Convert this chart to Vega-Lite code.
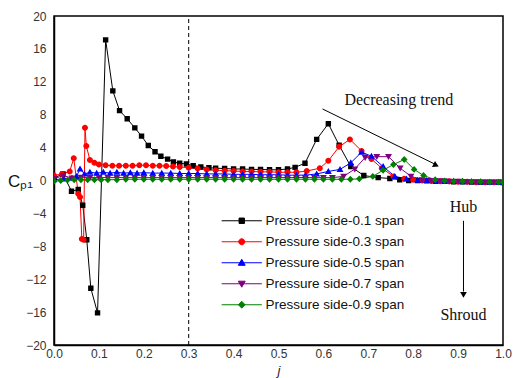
{
  "$schema": "https://vega.github.io/schema/vega-lite/v6.json",
  "width": 449,
  "height": 329,
  "autosize": "none",
  "padding": {"left": 54, "top": 16, "right": 11, "bottom": 33},
  "background": "white",
  "config": {
    "view": {"stroke": "black", "strokeWidth": 1.5},
    "font": "Liberation Sans",
    "axis": {"labelOverlap": false, "labelFlush": false}
  },
  "datasets": {
    "cp": [
      {"s":"0.1","j":0.0,"c":0.3},{"s":"0.1","j":0.02,"c":0.8},{"s":"0.1","j":0.039,"c":-1.3},{"s":"0.1","j":0.054,"c":-1.1},{"s":"0.1","j":0.064,"c":-3.0},{"s":"0.1","j":0.073,"c":-7.2},{"s":"0.1","j":0.082,"c":-13.1},{"s":"0.1","j":0.097,"c":-16.1},{"s":"0.1","j":0.115,"c":17.1},{"s":"0.1","j":0.131,"c":10.9},{"s":"0.1","j":0.146,"c":8.5},{"s":"0.1","j":0.163,"c":7.5},{"s":"0.1","j":0.18,"c":6.4},{"s":"0.1","j":0.195,"c":5.4},{"s":"0.1","j":0.21,"c":4.25},{"s":"0.1","j":0.225,"c":3.5},{"s":"0.1","j":0.238,"c":2.95},{"s":"0.1","j":0.253,"c":2.6},{"s":"0.1","j":0.266,"c":2.25},{"s":"0.1","j":0.28,"c":2.1},{"s":"0.1","j":0.295,"c":2.0},{"s":"0.1","j":0.31,"c":1.8},{"s":"0.1","j":0.327,"c":1.65},{"s":"0.1","j":0.345,"c":1.55},{"s":"0.1","j":0.36,"c":1.5},{"s":"0.1","j":0.38,"c":1.45},{"s":"0.1","j":0.4,"c":1.4},{"s":"0.1","j":0.42,"c":1.4},{"s":"0.1","j":0.44,"c":1.35},{"s":"0.1","j":0.46,"c":1.35},{"s":"0.1","j":0.48,"c":1.3},{"s":"0.1","j":0.5,"c":1.3},{"s":"0.1","j":0.52,"c":1.4},{"s":"0.1","j":0.537,"c":1.6},{"s":"0.1","j":0.559,"c":2.1},{"s":"0.1","j":0.585,"c":5.0},{"s":"0.1","j":0.611,"c":6.9},{"s":"0.1","j":0.635,"c":4.3},{"s":"0.1","j":0.661,"c":1.7},{"s":"0.1","j":0.69,"c":0.6},{"s":"0.1","j":0.722,"c":0.35},{"s":"0.1","j":0.748,"c":0.25},{"s":"0.1","j":0.77,"c":0.1},{"s":"0.1","j":0.79,"c":0.0},{"s":"0.1","j":0.81,"c":0.0},{"s":"0.1","j":0.83,"c":-0.05},{"s":"0.1","j":0.85,"c":-0.1},{"s":"0.1","j":0.87,"c":-0.1},{"s":"0.1","j":0.89,"c":-0.15},{"s":"0.1","j":0.91,"c":-0.15},{"s":"0.1","j":0.93,"c":-0.2},{"s":"0.1","j":0.95,"c":-0.2},{"s":"0.1","j":0.97,"c":-0.2},{"s":"0.1","j":0.99,"c":-0.2},{"s":"0.1","j":1.0,"c":-0.25},

      {"s":"0.3","j":0.0,"c":0.6},{"s":"0.3","j":0.018,"c":0.8},{"s":"0.3","j":0.035,"c":1.1},{"s":"0.3","j":0.044,"c":2.7},{"s":"0.3","j":0.054,"c":-1.6},{"s":"0.3","j":0.058,"c":-2.0},{"s":"0.3","j":0.062,"c":-7.1},{"s":"0.3","j":0.066,"c":-7.2},{"s":"0.3","j":0.069,"c":6.4},{"s":"0.3","j":0.072,"c":4.2},{"s":"0.3","j":0.08,"c":2.5},{"s":"0.3","j":0.09,"c":2.15},{"s":"0.3","j":0.1,"c":1.95},{"s":"0.3","j":0.115,"c":1.85},{"s":"0.3","j":0.13,"c":1.8},{"s":"0.3","j":0.145,"c":1.8},{"s":"0.3","j":0.16,"c":1.8},{"s":"0.3","j":0.175,"c":1.8},{"s":"0.3","j":0.19,"c":1.85},{"s":"0.3","j":0.205,"c":1.85},{"s":"0.3","j":0.22,"c":1.8},{"s":"0.3","j":0.235,"c":1.8},{"s":"0.3","j":0.25,"c":1.75},{"s":"0.3","j":0.265,"c":1.7},{"s":"0.3","j":0.28,"c":1.65},{"s":"0.3","j":0.3,"c":1.55},{"s":"0.3","j":0.32,"c":1.45},{"s":"0.3","j":0.34,"c":1.35},{"s":"0.3","j":0.36,"c":1.25},{"s":"0.3","j":0.38,"c":1.2},{"s":"0.3","j":0.4,"c":1.15},{"s":"0.3","j":0.42,"c":1.1},{"s":"0.3","j":0.44,"c":1.1},{"s":"0.3","j":0.46,"c":1.05},{"s":"0.3","j":0.48,"c":1.05},{"s":"0.3","j":0.5,"c":1.0},{"s":"0.3","j":0.52,"c":1.0},{"s":"0.3","j":0.54,"c":1.0},{"s":"0.3","j":0.563,"c":1.15},{"s":"0.3","j":0.592,"c":1.5},{"s":"0.3","j":0.611,"c":2.4},{"s":"0.3","j":0.635,"c":4.1},{"s":"0.3","j":0.659,"c":5.0},{"s":"0.3","j":0.685,"c":3.6},{"s":"0.3","j":0.707,"c":2.6},{"s":"0.3","j":0.73,"c":1.5},{"s":"0.3","j":0.756,"c":0.5},{"s":"0.3","j":0.78,"c":0.2},{"s":"0.3","j":0.8,"c":0.1},{"s":"0.3","j":0.82,"c":0.0},{"s":"0.3","j":0.84,"c":-0.05},{"s":"0.3","j":0.86,"c":-0.1},{"s":"0.3","j":0.88,"c":-0.1},{"s":"0.3","j":0.9,"c":-0.15},{"s":"0.3","j":0.92,"c":-0.15},{"s":"0.3","j":0.94,"c":-0.2},{"s":"0.3","j":0.96,"c":-0.2},{"s":"0.3","j":0.98,"c":-0.2},{"s":"0.3","j":1.0,"c":-0.25},

      {"s":"0.5","j":0.0,"c":0.1},{"s":"0.5","j":0.02,"c":0.2},{"s":"0.5","j":0.04,"c":0.3},{"s":"0.5","j":0.05,"c":0.5},{"s":"0.5","j":0.058,"c":1.4},{"s":"0.5","j":0.068,"c":0.8},{"s":"0.5","j":0.08,"c":1.0},{"s":"0.5","j":0.095,"c":0.9},{"s":"0.5","j":0.11,"c":1.0},{"s":"0.5","j":0.125,"c":0.9},{"s":"0.5","j":0.14,"c":1.0},{"s":"0.5","j":0.155,"c":0.9},{"s":"0.5","j":0.17,"c":0.95},{"s":"0.5","j":0.185,"c":0.9},{"s":"0.5","j":0.2,"c":0.95},{"s":"0.5","j":0.22,"c":0.9},{"s":"0.5","j":0.24,"c":0.9},{"s":"0.5","j":0.26,"c":0.9},{"s":"0.5","j":0.28,"c":0.85},{"s":"0.5","j":0.3,"c":0.85},{"s":"0.5","j":0.32,"c":0.85},{"s":"0.5","j":0.34,"c":0.8},{"s":"0.5","j":0.36,"c":0.8},{"s":"0.5","j":0.38,"c":0.8},{"s":"0.5","j":0.4,"c":0.75},{"s":"0.5","j":0.42,"c":0.75},{"s":"0.5","j":0.44,"c":0.75},{"s":"0.5","j":0.46,"c":0.7},{"s":"0.5","j":0.48,"c":0.7},{"s":"0.5","j":0.5,"c":0.7},{"s":"0.5","j":0.52,"c":0.65},{"s":"0.5","j":0.54,"c":0.65},{"s":"0.5","j":0.56,"c":0.65},{"s":"0.5","j":0.585,"c":0.8},{"s":"0.5","j":0.611,"c":1.1},{"s":"0.5","j":0.637,"c":1.35},{"s":"0.5","j":0.661,"c":2.15},{"s":"0.5","j":0.685,"c":3.45},{"s":"0.5","j":0.707,"c":2.95},{"s":"0.5","j":0.733,"c":1.7},{"s":"0.5","j":0.759,"c":0.5},{"s":"0.5","j":0.785,"c":0.2},{"s":"0.5","j":0.81,"c":0.05},{"s":"0.5","j":0.83,"c":0.0},{"s":"0.5","j":0.85,"c":-0.05},{"s":"0.5","j":0.87,"c":-0.1},{"s":"0.5","j":0.89,"c":-0.1},{"s":"0.5","j":0.91,"c":-0.15},{"s":"0.5","j":0.93,"c":-0.15},{"s":"0.5","j":0.95,"c":-0.2},{"s":"0.5","j":0.97,"c":-0.2},{"s":"0.5","j":0.99,"c":-0.2},{"s":"0.5","j":1.0,"c":-0.2},

      {"s":"0.7","j":0.0,"c":0.2},{"s":"0.7","j":0.02,"c":0.6},{"s":"0.7","j":0.04,"c":0.3},{"s":"0.7","j":0.06,"c":0.4},{"s":"0.7","j":0.08,"c":0.35},{"s":"0.7","j":0.1,"c":0.35},{"s":"0.7","j":0.12,"c":0.35},{"s":"0.7","j":0.14,"c":0.35},{"s":"0.7","j":0.16,"c":0.35},{"s":"0.7","j":0.18,"c":0.35},{"s":"0.7","j":0.2,"c":0.35},{"s":"0.7","j":0.22,"c":0.35},{"s":"0.7","j":0.24,"c":0.35},{"s":"0.7","j":0.26,"c":0.35},{"s":"0.7","j":0.28,"c":0.35},{"s":"0.7","j":0.3,"c":0.35},{"s":"0.7","j":0.32,"c":0.35},{"s":"0.7","j":0.34,"c":0.35},{"s":"0.7","j":0.36,"c":0.35},{"s":"0.7","j":0.38,"c":0.35},{"s":"0.7","j":0.4,"c":0.35},{"s":"0.7","j":0.42,"c":0.35},{"s":"0.7","j":0.44,"c":0.35},{"s":"0.7","j":0.46,"c":0.35},{"s":"0.7","j":0.48,"c":0.35},{"s":"0.7","j":0.5,"c":0.35},{"s":"0.7","j":0.52,"c":0.35},{"s":"0.7","j":0.54,"c":0.35},{"s":"0.7","j":0.56,"c":0.35},{"s":"0.7","j":0.58,"c":0.35},{"s":"0.7","j":0.6,"c":0.35},{"s":"0.7","j":0.62,"c":0.35},{"s":"0.7","j":0.645,"c":0.5},{"s":"0.7","j":0.67,"c":1.4},{"s":"0.7","j":0.693,"c":2.8},{"s":"0.7","j":0.719,"c":2.9},{"s":"0.7","j":0.745,"c":2.9},{"s":"0.7","j":0.771,"c":1.5},{"s":"0.7","j":0.795,"c":0.5},{"s":"0.7","j":0.82,"c":0.1},{"s":"0.7","j":0.84,"c":0.0},{"s":"0.7","j":0.86,"c":-0.05},{"s":"0.7","j":0.88,"c":-0.1},{"s":"0.7","j":0.9,"c":-0.1},{"s":"0.7","j":0.92,"c":-0.15},{"s":"0.7","j":0.94,"c":-0.15},{"s":"0.7","j":0.96,"c":-0.2},{"s":"0.7","j":0.98,"c":-0.2},{"s":"0.7","j":1.0,"c":-0.2},

      {"s":"0.9","j":0.0,"c":-0.1},{"s":"0.9","j":0.015,"c":0.0},{"s":"0.9","j":0.03,"c":0.05},{"s":"0.9","j":0.045,"c":0.1},{"s":"0.9","j":0.06,"c":0.1},{"s":"0.9","j":0.075,"c":0.1},{"s":"0.9","j":0.09,"c":0.1},{"s":"0.9","j":0.105,"c":0.1},{"s":"0.9","j":0.12,"c":0.1},{"s":"0.9","j":0.14,"c":0.1},{"s":"0.9","j":0.16,"c":0.15},{"s":"0.9","j":0.18,"c":0.15},{"s":"0.9","j":0.2,"c":0.15},{"s":"0.9","j":0.22,"c":0.15},{"s":"0.9","j":0.24,"c":0.15},{"s":"0.9","j":0.26,"c":0.15},{"s":"0.9","j":0.28,"c":0.15},{"s":"0.9","j":0.3,"c":0.15},{"s":"0.9","j":0.32,"c":0.15},{"s":"0.9","j":0.34,"c":0.15},{"s":"0.9","j":0.36,"c":0.15},{"s":"0.9","j":0.38,"c":0.15},{"s":"0.9","j":0.4,"c":0.15},{"s":"0.9","j":0.42,"c":0.15},{"s":"0.9","j":0.44,"c":0.15},{"s":"0.9","j":0.46,"c":0.15},{"s":"0.9","j":0.48,"c":0.15},{"s":"0.9","j":0.5,"c":0.15},{"s":"0.9","j":0.52,"c":0.15},{"s":"0.9","j":0.54,"c":0.15},{"s":"0.9","j":0.56,"c":0.15},{"s":"0.9","j":0.58,"c":0.15},{"s":"0.9","j":0.6,"c":0.15},{"s":"0.9","j":0.62,"c":0.15},{"s":"0.9","j":0.64,"c":0.15},{"s":"0.9","j":0.66,"c":0.15},{"s":"0.9","j":0.68,"c":0.2},{"s":"0.9","j":0.71,"c":0.5},{"s":"0.9","j":0.733,"c":1.25},{"s":"0.9","j":0.756,"c":1.94},{"s":"0.9","j":0.78,"c":2.55},{"s":"0.9","j":0.802,"c":1.35},{"s":"0.9","j":0.823,"c":0.6},{"s":"0.9","j":0.849,"c":0.1},{"s":"0.9","j":0.87,"c":-0.05},{"s":"0.9","j":0.89,"c":-0.1},{"s":"0.9","j":0.91,"c":-0.1},{"s":"0.9","j":0.93,"c":-0.15},{"s":"0.9","j":0.95,"c":-0.15},{"s":"0.9","j":0.97,"c":-0.2},{"s":"0.9","j":0.99,"c":-0.2},{"s":"0.9","j":1.0,"c":-0.2}
    ],
    "vline": [{"j": 0.3, "c": -20, "c2": 20}],
    "arrows": [
      {"j": 0.598, "c": 8.7, "j2": 0.848, "c2": 2.0},
      {"j": 0.912, "c": -4.9, "j2": 0.912, "c2": -13.5}
    ],
    "head1": [{"j": 0.851, "c": 1.85}],
    "head2": [{"j": 0.912, "c": -13.9}],
    "notes": [
      {"j": 0.768, "c": 9.75, "t": "Decreasing trend"},
      {"j": 0.912, "c": -3.2, "t": "Hub"},
      {"j": 0.912, "c": -16.3, "t": "Shroud"}
    ]
  },
  "encoding": {
    "x": {
      "field": "j", "type": "quantitative",
      "scale": {"domain": [0, 1], "nice": false, "zero": false},
      "axis": {
        "values": [0,0.05,0.1,0.15,0.2,0.25,0.3,0.35,0.4,0.45,0.5,0.55,0.6,0.65,0.7,0.75,0.8,0.85,0.9,0.95,1.0],
        "labelExpr": "round(datum.value*20)%2==0 ? format(datum.value,'.1f') : ''",
        "grid": false, "tickSize": 0, "labelPadding": 3,
        "domainColor": "black", "domainWidth": 1.5,
        "tickColor": "black", "tickWidth": 1.2,
        "labelFont": "Liberation Sans", "labelFontSize": 12, "labelColor": "#333",
        "labelFlush": false, "labelOverlap": false,
        "title": "j", "titleFont": "Liberation Sans", "titleFontStyle": "italic", "titleFontWeight": "normal", "titleFontSize": 13, "titlePadding": 5, "titleColor": "#222",
        "encode": {"ticks": {"update": {"y2": {"signal": "round(datum.value*20)%2==0 ? -6 : -3"}}}}
      }
    },
    "y": {
      "field": "c", "type": "quantitative",
      "scale": {"domain": [-20, 20], "nice": false, "zero": false},
      "axis": {
        "values": [-20,-18,-16,-14,-12,-10,-8,-6,-4,-2,0,2,4,6,8,10,12,14,16,18,20],
        "labelExpr": "round(datum.value)%4==0 ? format(datum.value,'d') : ''",
        "grid": false, "tickSize": 0, "labelPadding": 8,
        "domainColor": "black", "domainWidth": 1.5,
        "tickColor": "black", "tickWidth": 1.2,
        "labelFont": "Liberation Sans", "labelFontSize": 12, "labelColor": "#333",
        "labelFlush": false, "labelOverlap": false,
        "title": "Cₚ₁", "titleAngle": 0, "titleAlign": "center", "titleBaseline": "middle",
        "titleX": -34, "titleY": 165, "titleFont": "Liberation Sans", "titleFontSize": 17, "titleFontWeight": "normal", "titleColor": "#111",
        "encode": {"ticks": {"update": {"x2": {"signal": "round(datum.value)%4==0 ? 6 : 3"}}}}
      }
    },
    "color": {
      "field": "s", "type": "nominal",
      "scale": {"domain": ["0.1","0.3","0.5","0.7","0.9"], "range": ["#000000","#ff0000","#0000ff","#800080","#008000"]},
      "legend": {
        "orient": "none", "legendX": 181, "legendY": 198, "title": null,
        "labelExpr": "'Pressure side-' + datum.label + ' span'",
        "labelFont": "Liberation Sans", "labelFontSize": 13.5, "labelColor": "#111",
        "labelOffset": 17, "rowPadding": 6, "symbolSize": 36, "padding": 0,
        "symbolStrokeWidth": 1,
        "encode": {
          "symbols": {
            "update": {
              "stroke": {"scale": "color", "field": "value"},
              "strokeWidth": {"value": 1},
              "opacity": {"value": 1}
            }
          }
        }
      }
    }
  },
  "layer": [
    {
      "data": {"name": "vline"},
      "mark": {"type": "rule", "strokeWidth": 1, "strokeDash": [4, 3]},
      "encoding": {"y2": {"field": "c2"}, "color": {"value": "black"}}
    },
    {
      "data": {"name": "cp"},
      "mark": {"type": "line", "strokeWidth": 1, "clip": true},
      "encoding": {"order": {"field": "j", "type": "quantitative"}}
    },
    {
      "data": {"name": "cp"},
      "mark": {"type": "point", "filled": true, "opacity": 1, "size": 36, "strokeWidth": 0, "clip": true},
      "encoding": {
        "shape": {
          "field": "s", "type": "nominal",
          "scale": {"domain": ["0.1","0.3","0.5","0.7","0.9"], "range": [
            "M-6.7,0H6.7M-0.9,-0.9H0.9V0.9H-0.9Z",
            "M-6.7,0H6.7M1,0A1,1,0,1,1,-1,0A1,1,0,1,1,1,0Z",
            "M-6.7,0H6.7M0,-1.15L1.15,0.85L-1.15,0.85Z",
            "M-6.7,0H6.7M0,1.15L1.15,-0.85L-1.15,-0.85Z",
            "M-6.7,0H6.7M0,-1.15L1.1,0L0,1.15L-1.1,0Z"
          ]},
          "legend": {
            "orient": "none", "legendX": 181, "legendY": 198, "title": null,
            "labelExpr": "'Pressure side-' + datum.label + ' span'",
            "labelFont": "Liberation Sans", "labelFontSize": 13.5, "labelColor": "#111",
            "labelOffset": 17, "rowPadding": 6, "symbolSize": 36, "padding": 0,
            "symbolStrokeWidth": 1
          }
        }
      }
    },
    {
      "data": {"name": "arrows"},
      "mark": {"type": "rule", "strokeWidth": 1},
      "encoding": {"x2": {"field": "j2"}, "y2": {"field": "c2"}, "color": {"value": "black"}}
    },
    {
      "data": {"name": "head1"},
      "mark": {"type": "point", "shape": "triangle-right", "angle": 26.6, "filled": true, "opacity": 1, "size": 45},
      "encoding": {"color": {"value": "black"}}
    },
    {
      "data": {"name": "head2"},
      "mark": {"type": "point", "shape": "triangle-down", "filled": true, "opacity": 1, "size": 45},
      "encoding": {"color": {"value": "black"}}
    },
    {
      "data": {"name": "notes"},
      "mark": {"type": "text", "font": "Liberation Serif", "fontSize": 16, "align": "center", "baseline": "middle"},
      "encoding": {"text": {"field": "t"}, "color": {"value": "#111"}}
    }
  ]
}
